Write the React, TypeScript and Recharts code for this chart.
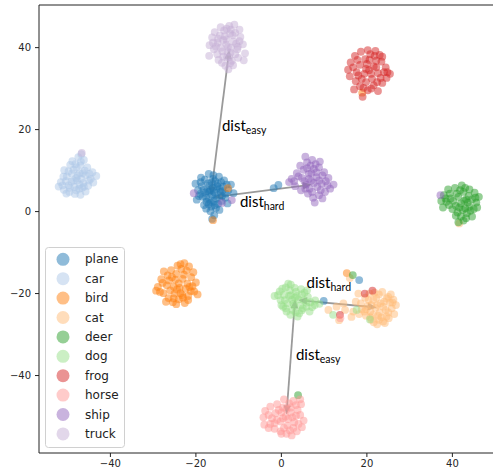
import React from "react"
import {
  ScatterChart,
  Scatter,
  XAxis,
  YAxis,
  ReferenceLine,
  ReferenceDot,
} from "recharts"

// tab10/tab20 style palette, one colour per class
const CLASSES = ["plane", "car", "bird", "cat", "deer", "dog", "frog", "horse", "ship", "truck"]
const COLORS = ["#1f77b4", "#aec7e8", "#ff7f0e", "#ffbb78", "#2ca02c", "#98df8a", "#d62728", "#ff9896", "#9467bd", "#c5b0d5"]

const X_TICKS = [-40, -20, 0, 20, 40]
const Y_TICKS = [-40, -20, 0, 20, 40]
const X_DOMAIN: [number, number] = [-56.7, 49.5]
const Y_DOMAIN: [number, number] = [-58.9, 50.4]

type P = [number, number]

const plane: P[] = [
  [-16.2, 4.1], [-15.1, 3.2], [-17.3, 5.0], [-14.2, 4.8], [-18.4, 3.6], [-16.8, 6.3], [-15.5, 7.4], [-13.6, 6.1],
  [-17.9, 7.8], [-19.5, 5.2], [-19.8, 2.9], [-18.1, 1.6], [-16.4, 1.2], [-14.8, 1.9], [-13.1, 3.4], [-12.4, 5.2],
  [-15.9, 8.9], [-17.0, 9.2], [-14.6, 8.5], [-18.8, 8.3], [-20.1, 6.8], [-16.6, 0.1], [-15.7, -0.9], [-16.2, -1.8],
  [-17.5, 2.4], [-14.0, 2.6], [-15.2, 5.6], [-16.9, 3.0], [-13.4, 7.6], [-19.0, 4.3], [-17.6, 0.7], [-14.5, 0.4],
  [-12.6, 2.0], [-15.6, 4.6], [-18.6, 6.2], [-16.0, 5.8], [-14.9, 6.8], [-17.8, 4.6], [-13.8, 5.0], [-16.5, 2.2],
  [-11.2, 4.5], [-11.8, 6.6], [-15.4, 3.9], [-16.9, 4.8], [-17.2, 6.9], [-15.0, 6.2], [-13.9, 3.8], [-18.2, 5.3],
  [-17.0, 1.8], [-15.8, 2.6], [-14.4, 5.5], [-16.3, 7.1], [-18.9, 7.2], [-13.0, 4.4], [-15.3, 0.9], [-17.6, 3.4],
  [-16.0, 8.0], [-14.1, 7.2], [-19.3, 3.8], [-16.6, 5.2], [-15.6, 1.6], [-12.8, 6.6],
  [-0.7, 6.5], [-1.8, 5.7], [18.2, -16.7], [9.9, -21.8],
]
const car: P[] = [
  [-48.0, 8.2], [-47.2, 9.4], [-49.1, 7.3], [-46.3, 7.0], [-50.2, 8.6], [-48.6, 10.2], [-47.0, 11.3], [-46.2, 12.6],
  [-47.5, 13.3], [-46.8, 14.0], [-49.4, 11.4], [-50.8, 10.1], [-51.6, 7.2], [-52.1, 6.1], [-50.9, 5.3], [-49.6, 4.8],
  [-48.3, 4.3], [-47.0, 4.1], [-45.8, 4.9], [-45.2, 6.3], [-44.6, 8.0], [-43.3, 8.7], [-44.2, 9.6], [-45.4, 10.8],
  [-45.8, 8.9], [-48.4, 6.0], [-47.3, 5.6], [-49.8, 6.4], [-51.0, 8.5], [-46.0, 10.0], [-48.9, 12.3], [-47.8, 7.6],
  [-44.0, 7.1], [-50.3, 4.4], [-49.0, 9.3], [-46.6, 5.8], [-48.6, 7.6], [-47.6, 8.8], [-46.8, 8.0], [-49.5, 5.8],
  [-48.0, 5.2], [-46.2, 6.1], [-50.4, 7.4], [-47.9, 10.8], [-46.9, 12.2], [-45.0, 7.6], [-48.2, 11.6], [-49.8, 9.8],
  [-51.2, 6.4], [-46.5, 9.4], [-47.2, 6.6], [-44.9, 9.2],
]
const bird: P[] = [
  [-24.0, -17.5], [-23.1, -16.4], [-25.2, -18.3], [-22.4, -18.8], [-26.3, -16.8], [-24.6, -15.2], [-23.4, -14.0],
  [-22.7, -12.6], [-21.6, -13.4], [-25.8, -14.3], [-27.5, -14.6], [-28.1, -16.5], [-28.9, -18.4], [-29.3, -19.3],
  [-27.6, -19.9], [-26.4, -21.1], [-25.4, -22.1], [-24.0, -21.4], [-22.6, -22.3], [-21.8, -20.6], [-20.4, -19.5],
  [-19.6, -20.2], [-20.0, -17.3], [-21.1, -16.0], [-20.6, -14.8], [-23.6, -19.9], [-25.0, -20.0], [-26.8, -18.0],
  [-22.0, -17.6], [-24.3, -13.2], [-27.0, -22.0], [-23.0, -21.0], [-21.5, -18.4], [-25.6, -16.0],
  [-24.8, -16.6], [-23.8, -18.6], [-22.8, -15.4], [-26.0, -19.2], [-27.8, -17.4], [-25.2, -21.2], [-21.2, -19.4],
  [-23.2, -20.4], [-24.4, -19.0], [-22.2, -14.4], [-26.6, -15.6], [-24.6, -22.6], [-21.8, -21.6], [-23.6, -12.8],
  [-28.4, -19.6], [-20.8, -18.2],
  [15.3, -15.0], [-12.5, 5.7], [-16.0, -2.1], [18.9, 29.0],
]
const cat: P[] = [
  [22.0, -23.5], [23.2, -22.4], [20.8, -24.4], [24.4, -24.0], [21.5, -21.6], [22.8, -20.2], [23.6, -19.6],
  [25.0, -20.8], [26.2, -21.5], [26.8, -22.8], [25.8, -23.6], [26.4, -25.0], [25.1, -26.0], [23.8, -26.8],
  [22.4, -27.5], [21.0, -26.4], [19.8, -25.4], [18.8, -23.8], [18.6, -22.4], [19.6, -21.0], [20.6, -20.0],
  [24.0, -22.0], [21.0, -22.8], [22.6, -25.4], [24.6, -25.6], [20.2, -23.0], [25.4, -22.2], [19.4, -24.4],
  [23.0, -24.6], [21.8, -19.8], [17.4, -22.0], [16.8, -24.4], [22.4, -22.8], [23.8, -23.2], [21.4, -25.2],
  [25.0, -24.6], [20.4, -21.6], [22.2, -21.0], [24.6, -21.2], [23.4, -25.8], [19.8, -23.8], [21.6, -27.0],
  [26.0, -22.2], [20.8, -25.8], [24.2, -27.2], [22.8, -26.4], [18.2, -25.0], [25.6, -20.2],
  [11.0, -24.0], [12.9, -23.2], [14.9, -24.0], [14.5, -22.4], [16.4, -25.7], [16.0, -16.2], [13.5, -26.5],
  [18.0, -20.0], [41.6, -2.9],
]
const deer: P[] = [
  [42.0, 2.0], [43.2, 3.0], [40.8, 1.4], [44.0, 1.2], [41.4, 3.6], [42.6, 4.8], [42.2, 6.4], [40.6, 5.8],
  [39.0, 5.4], [38.0, 4.0], [37.4, 2.6], [37.8, 1.0], [39.2, 1.6], [39.6, 3.2], [44.0, 5.4], [45.2, 4.6],
  [46.2, 3.6], [45.6, 2.2], [45.0, 0.6], [44.6, -1.2], [43.4, -0.4], [42.6, -2.2], [41.4, -2.6], [40.8, -1.0],
  [42.4, 0.4], [43.8, 3.8], [41.0, 4.4], [38.6, 2.4], [43.2, -1.6], [45.8, 1.0], [42.8, 2.6], [41.6, 1.0],
  [43.6, 2.2], [40.2, 2.6], [41.8, 5.2], [43.0, 5.8], [44.6, 3.0], [39.4, 4.4], [42.0, -1.2], [44.2, 0.2],
  [38.4, 3.2], [40.0, 0.6], [45.4, 3.4], [43.0, 0.8], [41.2, -0.2],
  [16.7, -15.5], [3.9, -44.8],
]
const dog: P[] = [
  [2.5, -21.5], [3.6, -20.6], [1.4, -22.4], [4.4, -22.9], [0.6, -20.3], [2.0, -19.2], [3.1, -18.6], [4.6, -18.9],
  [5.4, -19.8], [1.0, -18.5], [-0.4, -19.5], [-1.6, -20.6], [-0.2, -21.6], [0.4, -23.2], [1.2, -24.4], [2.1, -25.2],
  [3.3, -24.6], [4.8, -24.1], [5.9, -23.2], [6.8, -22.1], [7.9, -21.7], [8.9, -22.5], [6.2, -20.8], [3.0, -23.0],
  [2.2, -20.4], [5.2, -21.6], [0.0, -22.8], [3.8, -25.6], [6.6, -24.4], [1.6, -17.6], [4.0, -21.4], [7.2, -23.3],
  [2.8, -22.4], [1.8, -20.6], [3.4, -19.6], [0.8, -21.6], [4.8, -20.2], [5.8, -22.2], [2.6, -24.0], [1.0, -23.6],
  [4.2, -24.8], [-0.8, -20.4], [3.2, -21.0], [6.0, -19.2], [0.2, -18.8], [7.8, -22.8], [5.0, -23.6], [2.2, -17.8],
  [12.1, -25.2], [17.6, -24.0], [20.7, -26.3],
]
const frog: P[] = [
  [20.5, 34.5], [21.6, 35.4], [19.4, 33.6], [22.6, 33.8], [18.4, 35.8], [19.6, 37.2], [20.8, 38.4], [22.0, 39.2],
  [18.6, 39.0], [17.2, 38.0], [16.2, 36.4], [15.6, 34.6], [16.0, 33.0], [17.4, 31.8], [18.4, 30.6], [17.0, 29.8],
  [19.0, 28.0], [20.2, 29.6], [21.6, 30.8], [22.6, 29.4], [23.6, 31.4], [24.6, 32.6], [25.4, 33.6], [24.4, 35.2],
  [23.4, 36.6], [23.0, 38.2], [21.2, 32.4], [19.8, 31.6], [18.0, 33.2], [22.2, 36.8], [20.0, 36.0], [24.0, 34.0],
  [21.0, 33.6], [19.8, 34.8], [22.2, 35.2], [18.8, 32.4], [20.6, 37.0], [21.8, 38.0], [17.8, 37.0], [16.8, 35.2],
  [19.2, 30.2], [21.0, 30.0], [23.2, 32.6], [24.8, 34.0], [23.6, 37.8], [20.2, 39.4], [17.6, 34.0], [22.4, 31.6],
  [19.5, -20.0], [21.3, -19.3], [13.7, -25.2],
]
const horse: P[] = [
  [1.0, -50.0], [2.2, -49.0], [-0.2, -51.2], [3.0, -51.4], [-1.4, -49.2], [0.4, -47.8], [1.8, -46.8], [3.4, -47.2],
  [4.4, -45.8], [-2.6, -47.6], [-3.8, -48.6], [-4.2, -50.2], [-4.0, -52.0], [-2.6, -51.8], [-1.6, -53.0],
  [-0.2, -53.6], [1.2, -54.2], [2.4, -54.6], [3.6, -53.6], [4.8, -52.6], [5.2, -51.0], [4.4, -49.6], [2.8, -52.8],
  [0.0, -49.0], [-1.0, -47.0], [1.4, -52.2], [3.4, -49.8], [-2.2, -50.4], [2.2, -47.8], [0.6, -45.8],
  [1.6, -50.6], [0.4, -50.4], [2.6, -50.2], [-1.0, -50.8], [-0.6, -48.4], [1.2, -48.2], [3.8, -48.4], [-3.0, -49.6],
  [-3.0, -52.8], [0.6, -52.8], [2.0, -53.4], [4.0, -51.8], [-1.6, -51.6], [2.8, -46.2], [0.0, -54.2], [4.6, -47.0],
  [13.8, -26.0],
]
const ship: P[] = [
  [7.0, 7.5], [8.2, 8.4], [5.8, 6.6], [9.4, 6.8], [6.4, 9.2], [7.6, 10.4], [6.0, 12.0], [5.6, 13.4], [4.4, 11.2],
  [3.6, 9.4], [2.4, 8.0], [1.8, 7.2], [3.2, 6.2], [4.6, 5.2], [6.2, 4.4], [7.4, 3.4], [7.8, 2.2], [8.8, 4.0],
  [10.2, 4.8], [11.4, 5.6], [12.2, 6.6], [11.0, 8.2], [10.0, 9.6], [8.8, 10.8], [9.0, 12.2], [7.2, 12.6],
  [4.8, 8.2], [8.4, 6.0], [10.4, 7.4], [6.6, 5.6], [5.2, 10.2], [9.6, 3.2], [7.6, 7.0], [6.4, 8.0], [8.8, 7.6],
  [5.4, 7.4], [7.0, 9.4], [8.2, 9.6], [6.8, 11.2], [4.0, 8.6], [5.6, 5.6], [7.2, 4.8], [9.2, 5.2], [10.8, 6.4],
  [9.6, 8.8], [3.0, 7.4], [8.0, 11.6], [6.0, 10.6],
  [-20.5, 4.5], [-13.9, 2.1], [-11.6, 2.8], [37.2, 4.0],
]
const truck: P[] = [
  [-12.5, 40.2], [-11.2, 41.5], [-13.8, 39.1], [-14.9, 41.2], [-10.3, 39.6], [-12.0, 43.4], [-13.4, 44.2],
  [-11.0, 45.6], [-9.6, 42.6], [-15.8, 39.6], [-16.9, 38.0], [-16.2, 42.5], [-14.4, 43.0], [-12.7, 37.6],
  [-11.6, 36.8], [-10.1, 37.5], [-8.5, 38.6], [-9.0, 40.8], [-13.1, 35.6], [-12.4, 34.7], [-14.7, 37.0],
  [-10.8, 43.6], [-12.9, 42.0], [-15.3, 40.3], [-11.9, 38.8], [-13.6, 41.8], [-10.6, 41.0], [-9.8, 44.4],
  [-12.2, 45.3], [-14.2, 45.0], [-15.6, 43.8], [-16.8, 40.6], [-13.9, 36.3], [-11.3, 35.7], [-8.8, 36.9],
  [-12.6, 39.0], [-12.9, 40.8], [-11.8, 40.0], [-13.2, 42.8], [-11.4, 43.0], [-14.2, 40.0], [-10.8, 38.4],
  [-12.2, 37.6], [-15.0, 38.4], [-9.8, 41.6], [-13.6, 37.8], [-11.8, 44.4], [-14.8, 42.2], [-12.8, 44.6],
  [-10.2, 40.2], [-16.0, 41.2], [-12.0, 36.2],
  [-46.7, 14.3],
]

const POINTS = [plane, car, bird, cat, deer, dog, frog, horse, ship, truck]

// double-headed arrows between cluster centres
const ARROWS: [P, P][] = [
  [[-16.5, 3.9], [-12.2, 39.4]],
  [[-15.8, 3.5], [7.1, 6.6]],
  [[3.9, -21.6], [22.3, -23.4]],
  [[3.2, -21.4], [1.2, -49.5]],
]
const LABELS: { at: P; sub: string }[] = [
  { at: [-13.9, 19.7], sub: "easy" },
  { at: [-9.7, 1.2], sub: "hard" },
  { at: [5.9, -18.7], sub: "hard" },
  { at: [3.4, -36.2], sub: "easy" },
]

const fmt = (v: number) => String(v).replace("-", "\u2212")

function Arrow(props: any) {
  const { x1, y1, x2, y2 } = props
  const dx = x2 - x1
  const dy = y2 - y1
  const len = Math.hypot(dx, dy)
  const ux = dx / len
  const uy = dy / len
  const hl = 9
  const hw = 3.8
  const head = (tx: number, ty: number, dir: number) => {
    const bx = tx - dir * ux * hl
    const by = ty - dir * uy * hl
    return `${tx},${ty} ${bx - uy * hw},${by + ux * hw} ${bx + uy * hw},${by - ux * hw}`
  }
  return (
    <g>
      <line
        x1={x1 + ux * (hl - 1)}
        y1={y1 + uy * (hl - 1)}
        x2={x2 - ux * (hl - 1)}
        y2={y2 - uy * (hl - 1)}
        stroke="#9a9a9a"
        strokeWidth={1.8}
      />
      <polygon points={head(x2, y2, 1)} fill="#9a9a9a" />
      <polygon points={head(x1, y1, -1)} fill="#9a9a9a" />
    </g>
  )
}

function DistLabel({ cx, cy, sub }: { cx: number; cy: number; sub: string }) {
  return (
    <text x={cx} y={cy} fontFamily="Lato, 'Open Sans', sans-serif" fontSize={15} fill="#000">
      dist
      <tspan dy={3} fontSize={10.5}>
        {sub}
      </tspan>
    </text>
  )
}

function LegendBox() {
  return (
    <svg
      width={80}
      height={201}
      style={{ position: "absolute", left: 45, top: 247 }}
    >
      <rect x={0.5} y={0.5} width={79} height={200} rx={3} fill="#fff" fillOpacity={0.8} stroke="#d0d0d0" />
      {CLASSES.map((c, i) => {
        const cy = 12.3 + i * 19.4
        return (
          <g key={c}>
            <circle cx={18} cy={cy} r={6.5} fill={COLORS[i]} fillOpacity={0.5} />
            <text x={40} y={cy + 4} fontFamily="DejaVu Sans, sans-serif" fontSize={12} fill="#222">
              {c}
            </text>
          </g>
        )
      })}
    </svg>
  )
}

export default function App() {
  const tick = { fontFamily: "DejaVu Sans, sans-serif", fontSize: 10, fill: "#262626" }
  return (
    <div style={{ position: "absolute", left: 0, top: 0, width: 493, height: 470, background: "#fff" }}>
      <ScatterChart width={493} height={470} margin={{ top: 5, right: 0, bottom: 0, left: 0 }}>
        <XAxis
          type="number"
          dataKey="x"
          domain={X_DOMAIN}
          ticks={X_TICKS}
          allowDataOverflow
          height={17}
          tickSize={4}
          tickMargin={3}
          tick={tick}
          tickFormatter={fmt}
          axisLine={{ stroke: "#222" }}
          tickLine={{ stroke: "#222" }}
        />
        <YAxis
          type="number"
          dataKey="y"
          domain={Y_DOMAIN}
          ticks={Y_TICKS}
          allowDataOverflow
          width={39}
          tickSize={4}
          tickMargin={4}
          tick={tick}
          tickFormatter={fmt}
          axisLine={{ stroke: "#222" }}
          tickLine={{ stroke: "#222" }}
        />
        <ReferenceLine y={Y_DOMAIN[1]} stroke="#222" ifOverflow="visible" />
        {POINTS.map((pts, i) => (
          <Scatter
            key={CLASSES[i]}
            name={CLASSES[i]}
            data={pts.map(([x, y]) => ({ x, y }))}
            isAnimationActive={false}
            shape={(p: any) => (
              <circle cx={p.cx} cy={p.cy} r={3.9} fill={COLORS[i]} fillOpacity={0.5} />
            )}
          />
        ))}
        {ARROWS.map(([a, b], i) => (
          <ReferenceLine
            key={"arr" + i}
            segment={[{ x: a[0], y: a[1] }, { x: b[0], y: b[1] }]}
            ifOverflow="visible"
            shape={(p: any) => <Arrow {...p} />}
          />
        ))}
        {LABELS.map((l, i) => (
          <ReferenceDot
            key={"lab" + i}
            x={l.at[0]}
            y={l.at[1]}
            r={0}
            ifOverflow="visible"
            shape={(p: any) => <DistLabel cx={p.cx} cy={p.cy} sub={l.sub} />}
          />
        ))}
      </ScatterChart>
      <LegendBox />
    </div>
  )
}
